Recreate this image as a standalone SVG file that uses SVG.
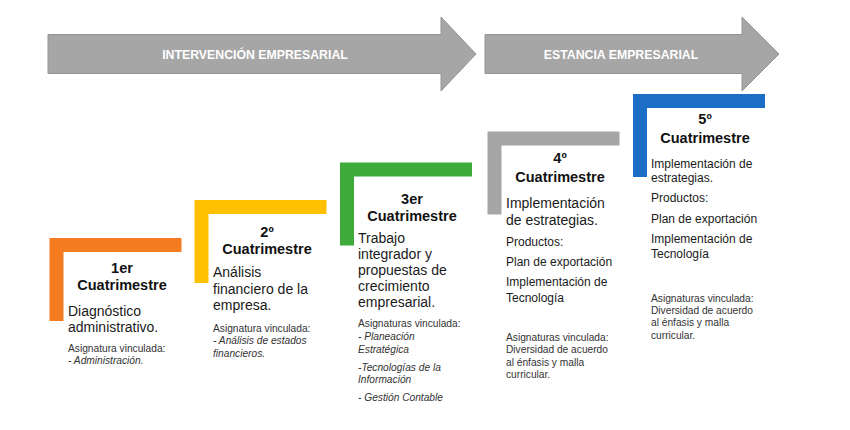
<svg xmlns="http://www.w3.org/2000/svg" width="850" height="430" viewBox="0 0 850 430">
<style>
.arrow{fill:#A6A6A6;stroke:#949494;stroke-width:1}
.band{font-family:"Liberation Sans",Arial,sans-serif;font-size:12.3px;font-weight:bold;fill:#FFFFFF;text-anchor:middle}
.h{font-family:"Liberation Sans",Arial,sans-serif;font-size:14.5px;font-weight:bold;fill:#111111;text-anchor:middle}
.b{font-family:"Liberation Sans",Arial,sans-serif;font-size:14px;fill:#1A1A1A}
.m{font-family:"Liberation Sans",Arial,sans-serif;font-size:12px;fill:#1A1A1A}
.s{font-family:"Liberation Sans",Arial,sans-serif;font-size:10.2px;fill:#333333}
.i{font-style:italic}
</style>
<rect width="850" height="430" fill="#FFFFFF"/>
<g id="connectors">
<g id="arrow-intervencion">
<polygon class="arrow" points="48,34.5 441,34.5 441,17 476,54 441,91 441,73.5 48,73.5"/>
<text class="band" x="255" y="58.5">INTERVENCIÓN EMPRESARIAL</text>
</g>
<g id="arrow-estancia">
<polygon class="arrow" points="485,34.5 742,34.5 742,17 779,54 742,91 742,73.5 485,73.5"/>
<text class="band" x="621" y="58.5">ESTANCIA EMPRESARIAL</text>
</g>
</g>
<g id="step1">
<path d="M49.5,238 h132 v14 h-118 v69 h-14 z" fill="#F47B20"/>
<text class="h" x="122" y="273">1er</text>
<text class="h" x="122" y="290">Cuatrimestre</text>
<text class="b" x="68" y="316">Diagnóstico</text>
<text class="b" x="68" y="332">administrativo.</text>
<text class="s" x="68" y="352">Asignatura vinculada:</text>
<text class="s i" x="68" y="364">- Administración.</text>
</g>
<g id="step2">
<path d="M194.5,200 h132 v14 h-118 v69 h-14 z" fill="#FFC000"/>
<text class="h" x="267" y="237">2º</text>
<text class="h" x="267" y="254">Cuatrimestre</text>
<text class="b" x="213" y="277">Análisis</text>
<text class="b" x="213" y="294">financiero de la</text>
<text class="b" x="213" y="310">empresa.</text>
<text class="s" x="213" y="332">Asignatura vinculada:</text>
<text class="s i" x="213" y="344">- Análisis de estados</text>
<text class="s i" x="213" y="357">financieros.</text>
</g>
<g id="step3">
<path d="M340,162.5 h132 v14 h-118 v69 h-14 z" fill="#3DAA3A"/>
<text class="h" x="412" y="204">3er</text>
<text class="h" x="412" y="221">Cuatrimestre</text>
<text class="b" x="358" y="243">Trabajo</text>
<text class="b" x="358" y="259">integrador y</text>
<text class="b" x="358" y="275">propuestas de</text>
<text class="b" x="358" y="291">crecimiento</text>
<text class="b" x="358" y="307">empresarial.</text>
<text class="s" x="358" y="327">Asignaturas vinculada:</text>
<text class="s i" x="358" y="340">- Planeación</text>
<text class="s i" x="358" y="353">Estratégica</text>
<text class="s i" x="358" y="371">-Tecnologías de la</text>
<text class="s i" x="358" y="383">Información</text>
<text class="s i" x="358" y="401">- Gestión Contable</text>
</g>
<g id="step4">
<path d="M487.5,131.5 h132 v14 h-118 v69 h-14 z" fill="#A6A6A6"/>
<text class="h" x="560" y="163">4º</text>
<text class="h" x="560" y="182">Cuatrimestre</text>
<text class="b" x="506" y="208">Implementación</text>
<text class="b" x="506" y="225">de estrategias.</text>
<text class="m" x="506" y="246">Productos:</text>
<text class="m" x="506" y="266">Plan de exportación</text>
<text class="m" x="506" y="286">Implementación de</text>
<text class="m" x="506" y="302">Tecnología</text>
<text class="s" x="506" y="341">Asignaturas vinculada:</text>
<text class="s" x="506" y="353">Diversidad de acuerdo</text>
<text class="s" x="506" y="366">al énfasis y malla</text>
<text class="s" x="506" y="378">curricular.</text>
</g>
<g id="step5">
<path d="M633,94 h132 v14 h-118 v69 h-14 z" fill="#1C6DC6"/>
<text class="h" x="705" y="124">5º</text>
<text class="h" x="705" y="143">Cuatrimestre</text>
<text class="m" x="651" y="168">Implementación de</text>
<text class="m" x="651" y="182">estrategias.</text>
<text class="m" x="651" y="202">Productos:</text>
<text class="m" x="651" y="223">Plan de exportación</text>
<text class="m" x="651" y="243">Implementación de</text>
<text class="m" x="651" y="258">Tecnología</text>
<text class="s" x="651" y="302">Asignaturas vinculada:</text>
<text class="s" x="651" y="314">Diversidad de acuerdo</text>
<text class="s" x="651" y="326">al énfasis y malla</text>
<text class="s" x="651" y="339">curricular.</text>
</g>
</svg>
